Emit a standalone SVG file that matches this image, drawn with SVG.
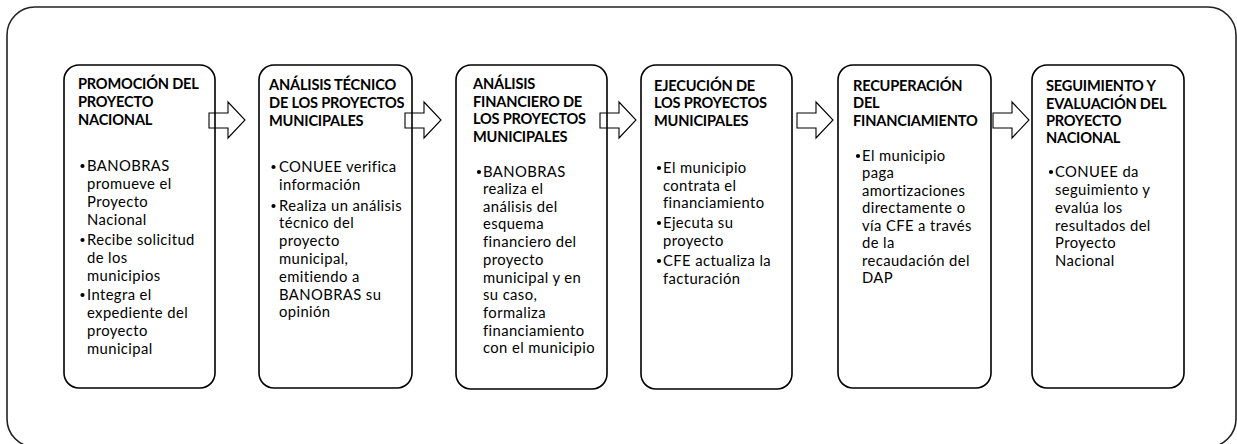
<svg xmlns="http://www.w3.org/2000/svg" xmlns:xlink="http://www.w3.org/1999/xlink" width="1237" height="444" viewBox="0 0 1237 444">
<style>
.frame{fill:none;stroke:#222;stroke-width:1.6}
.box{fill:none;stroke:#000;stroke-width:1.6}
.arrow{fill:#fff;stroke:#000;stroke-width:1.1;stroke-linejoin:miter}
.dot{fill:#000}
.t{font-family:Lato,"Open Sans","Liberation Sans",sans-serif;font-weight:700;font-size:14.6px;fill:#000;letter-spacing:-0.2px}
.b{font-family:Lato,"Open Sans","Liberation Sans",sans-serif;font-size:14.8px;fill:#000;letter-spacing:0.4px}
</style>
<defs>
<polygon id="arr" points="209,113 228,113 228,102 245,120 228,138 228,128 209,128"/>
<circle id="bul" cx="0" cy="-5" r="2.1"/>
</defs>
<rect x="7" y="7" width="1229" height="440" rx="28" class="frame"/>
<g id="connectors">
<use xlink:href="#arr" href="#arr" class="arrow"/>
<use xlink:href="#arr" href="#arr" class="arrow" x="196"/>
<use xlink:href="#arr" href="#arr" class="arrow" x="391"/>
<use xlink:href="#arr" href="#arr" class="arrow" x="588"/>
<use xlink:href="#arr" href="#arr" class="arrow" x="784"/>
</g>
<g id="node1">
<rect x="64" y="65" width="151" height="323" rx="15" class="box"/>
<text class="t"><tspan x="78" y="89">PROMOCIÓN DEL</tspan><tspan x="78" y="107">PROYECTO</tspan><tspan x="78" y="125">NACIONAL</tspan></text>
<use href="#bul" xlink:href="#bul" class="dot" x="82.5" y="171"/><use href="#bul" xlink:href="#bul" class="dot" x="82.5" y="245"/><use href="#bul" xlink:href="#bul" class="dot" x="82.5" y="300"/>
<text class="b"><tspan x="87" y="171">BANOBRAS</tspan><tspan x="87" y="189">promueve el</tspan><tspan x="87" y="207">Proyecto</tspan><tspan x="87" y="225">Nacional</tspan><tspan x="87" y="245">Recibe solicitud</tspan><tspan x="87" y="263">de los</tspan><tspan x="87" y="281">municipios</tspan><tspan x="87" y="300">Integra el</tspan><tspan x="87" y="318">expediente del</tspan><tspan x="87" y="336">proyecto</tspan><tspan x="87" y="354">municipal</tspan></text>
</g>
<g id="node2">
<rect x="259" y="65" width="153" height="323" rx="15" class="box"/>
<text class="t"><tspan x="269" y="90">ANÁLISIS TÉCNICO</tspan><tspan x="269" y="108">DE LOS PROYECTOS</tspan><tspan x="269" y="126">MUNICIPALES</tspan></text>
<use href="#bul" xlink:href="#bul" class="dot" x="273.5" y="172"/><use href="#bul" xlink:href="#bul" class="dot" x="273.5" y="211"/>
<text class="b"><tspan x="279" y="172">CONUEE verifica</tspan><tspan x="279" y="190">información</tspan><tspan x="279" y="211">Realiza un análisis</tspan><tspan x="279" y="228">técnico del</tspan><tspan x="279" y="246">proyecto</tspan><tspan x="279" y="264">municipal,</tspan><tspan x="279" y="282">emitiendo a</tspan><tspan x="279" y="300">BANOBRAS su</tspan><tspan x="279" y="317">opinión</tspan></text>
</g>
<g id="node3">
<rect x="456" y="65" width="151" height="324" rx="15" class="box"/>
<text class="t"><tspan x="473" y="89">ANÁLISIS</tspan><tspan x="473" y="107">FINANCIERO DE</tspan><tspan x="473" y="124">LOS PROYECTOS</tspan><tspan x="473" y="142">MUNICIPALES</tspan></text>
<use href="#bul" xlink:href="#bul" class="dot" x="479" y="177"/>
<text class="b"><tspan x="483" y="177">BANOBRAS</tspan><tspan x="483" y="194">realiza el</tspan><tspan x="483" y="212">análisis del</tspan><tspan x="483" y="229">esquema</tspan><tspan x="483" y="247">financiero del</tspan><tspan x="483" y="265">proyecto</tspan><tspan x="483" y="283">municipal y en</tspan><tspan x="483" y="300">su caso,</tspan><tspan x="483" y="318">formaliza</tspan><tspan x="483" y="336">financiamiento</tspan><tspan x="483" y="353">con el municipio</tspan></text>
</g>
<g id="node4">
<rect x="641" y="65" width="151" height="324" rx="15" class="box"/>
<text class="t"><tspan x="654" y="91">EJECUCIÓN DE</tspan><tspan x="654" y="108">LOS PROYECTOS</tspan><tspan x="654" y="126">MUNICIPALES</tspan></text>
<use href="#bul" xlink:href="#bul" class="dot" x="659" y="173"/><use href="#bul" xlink:href="#bul" class="dot" x="659" y="228"/><use href="#bul" xlink:href="#bul" class="dot" x="659" y="266"/>
<text class="b"><tspan x="663" y="173">El municipio</tspan><tspan x="663" y="191">contrata el</tspan><tspan x="663" y="208">financiamiento</tspan><tspan x="663" y="228">Ejecuta su</tspan><tspan x="663" y="246">proyecto</tspan><tspan x="663" y="266">CFE actualiza la</tspan><tspan x="663" y="284">facturación</tspan></text>
</g>
<g id="node5">
<rect x="838" y="65" width="153" height="323" rx="15" class="box"/>
<text class="t"><tspan x="853" y="91">RECUPERACIÓN</tspan><tspan x="853" y="108">DEL</tspan><tspan x="853" y="126">FINANCIAMIENTO</tspan></text>
<use href="#bul" xlink:href="#bul" class="dot" x="858" y="161"/>
<text class="b"><tspan x="862" y="161">El municipio</tspan><tspan x="862" y="178">paga</tspan><tspan x="862" y="196">amortizaciones</tspan><tspan x="862" y="213">directamente o</tspan><tspan x="862" y="231">vía CFE a través</tspan><tspan x="862" y="248">de la</tspan><tspan x="862" y="266">recaudación del</tspan><tspan x="862" y="283">DAP</tspan></text>
</g>
<g id="node6">
<rect x="1032" y="65" width="152" height="323" rx="15" class="box"/>
<text class="t"><tspan x="1046" y="91">SEGUIMIENTO Y</tspan><tspan x="1046" y="109">EVALUACIÓN DEL</tspan><tspan x="1046" y="126">PROYECTO</tspan><tspan x="1046" y="143">NACIONAL</tspan></text>
<use href="#bul" xlink:href="#bul" class="dot" x="1051" y="177"/>
<text class="b"><tspan x="1055" y="177">CONUEE da</tspan><tspan x="1055" y="195">seguimiento y</tspan><tspan x="1055" y="213">evalúa los</tspan><tspan x="1055" y="231">resultados del</tspan><tspan x="1055" y="248">Proyecto</tspan><tspan x="1055" y="266">Nacional</tspan></text>
</g>
</svg>
